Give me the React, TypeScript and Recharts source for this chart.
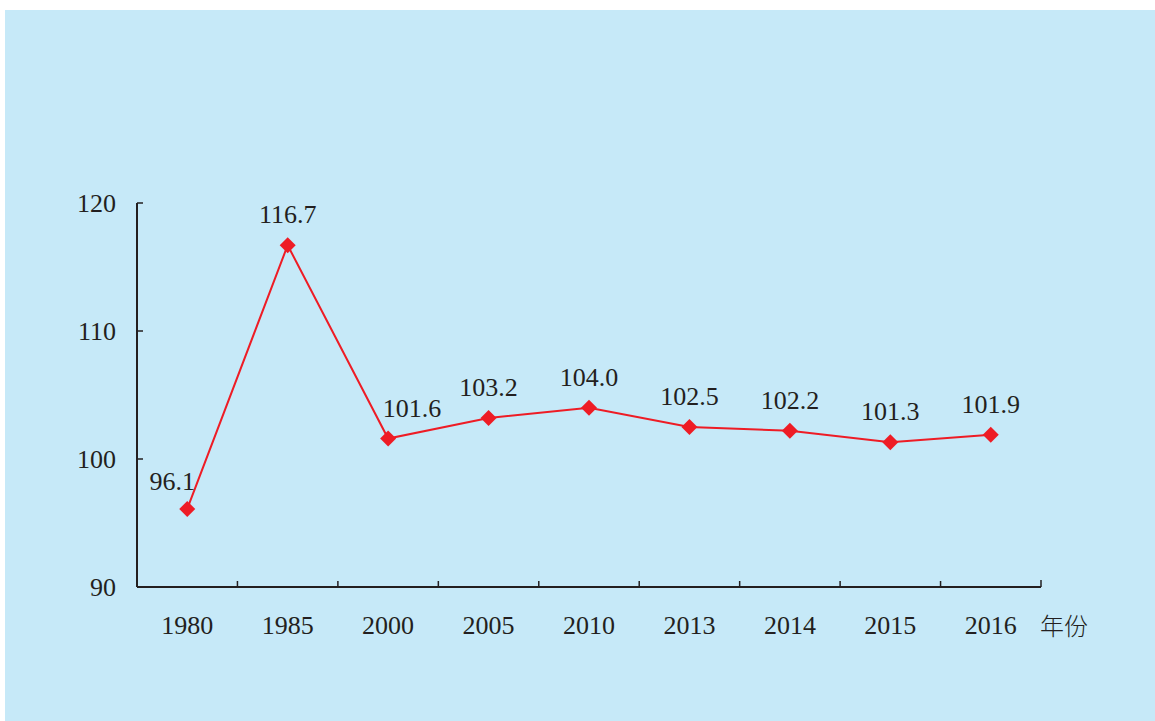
import { LineChart, Line, XAxis, YAxis } from 'recharts'

const years = ['1980', '1985', '2000', '2005', '2010', '2013', '2014', '2015', '2016']
const ratio = [96.1, 116.7, 101.6, 103.2, 104.0, 102.5, 102.2, 101.3, 101.9]
const yTicks = [90, 100, 110, 120]

const data = years.map((year, i) => ({ year, ratio: ratio[i] }))

const W = 1155
const H = 721
const AXIS_X = 137
const AXIS_Y = 587
const RIGHT = 114
const HALF = (W - RIGHT - AXIS_X) / years.length / 2
const INK = '#231f20'
const RED = '#ee1c25'
const FONT = '"Liberation Serif", "DejaVu Serif", serif'
const FS = 26

// label nudges for the two points where the line would cross the text
const labelShift: Record<number, { dx: number; dy: number }> = {
  0: { dx: -15, dy: 3 },
  2: { dx: 24, dy: 0 },
}

function Diamond(props: any) {
  const { cx, cy } = props
  if (cx == null || cy == null) return null
  const r = 8
  return (
    <path
      d={`M${cx},${cy - r} L${cx + r},${cy} L${cx},${cy + r} L${cx - r},${cy} Z`}
      fill={RED}
    />
  )
}

function ValueLabel(props: any) {
  const { x, y, value, index } = props
  const s = labelShift[index] || { dx: 0, dy: 0 }
  return (
    <text
      x={x + s.dx}
      y={y - 22 + s.dy}
      textAnchor="middle"
      fontFamily={FONT}
      fontSize={FS}
      fill={INK}
    >
      {Number(value).toFixed(1)}
    </text>
  )
}

function XTick(props: any) {
  const { x, payload, index } = props
  return (
    <g>
      {index > 0 && (
        <line x1={x - HALF} x2={x - HALF} y1={AXIS_Y} y2={AXIS_Y - 6} stroke={INK} strokeWidth={1.5} />
      )}
      {index === years.length - 1 && (
        <line x1={x + HALF} x2={x + HALF} y1={AXIS_Y} y2={AXIS_Y - 7} stroke={INK} strokeWidth={1.5} />
      )}
      <text x={x} y={AXIS_Y + 47} textAnchor="middle" fontFamily={FONT} fontSize={FS} fill={INK}>
        {payload.value}
      </text>
    </g>
  )
}

function YTick(props: any) {
  const { y, payload } = props
  return (
    <g>
      {payload.value !== 90 && (
        <line x1={AXIS_X} x2={AXIS_X + 6} y1={y} y2={y} stroke={INK} strokeWidth={1.5} />
      )}
      <text x={AXIS_X - 21} y={y + 9} textAnchor="end" fontFamily={FONT} fontSize={FS} fill={INK}>
        {payload.value}
      </text>
    </g>
  )
}

export default function App() {
  return (
    <div style={{ position: 'absolute', left: 0, top: 0, width: W, height: H, background: '#fff' }}>
      <div
        style={{ position: 'absolute', left: 5, top: 10, width: W - 5, height: H - 10, background: '#c6e9f8' }}
      />
      <div style={{ position: 'absolute', left: 0, top: 0 }}>
        <LineChart
          width={W}
          height={H}
          data={data}
          margin={{ top: 203, right: RIGHT, left: 0, bottom: 74 }}
        >
          <XAxis
            dataKey="year"
            height={60}
            padding={{ left: HALF, right: HALF }}
            axisLine={{ stroke: INK, strokeWidth: 2 }}
            tickLine={false}
            tick={<XTick />}
            interval={0}
          />
          <YAxis
            width={AXIS_X}
            domain={[90, 120]}
            ticks={yTicks}
            axisLine={{ stroke: INK, strokeWidth: 2 }}
            tickLine={false}
            tickSize={0}
            tick={<YTick />}
          />
          <Line
            type="linear"
            dataKey="ratio"
            stroke={RED}
            strokeWidth={2}
            dot={<Diamond />}
            activeDot={false}
            label={<ValueLabel />}
            isAnimationActive={false}
          />
        </LineChart>
      </div>
      <div
        style={{
          position: 'absolute',
          left: 1040,
          top: 610,
          fontFamily: '"Noto Sans CJK SC", sans-serif',
          fontSize: 24,
          fontWeight: 300,
          color: INK,
          lineHeight: '30px',
        }}
      >
        年份
      </div>
    </div>
  )
}
